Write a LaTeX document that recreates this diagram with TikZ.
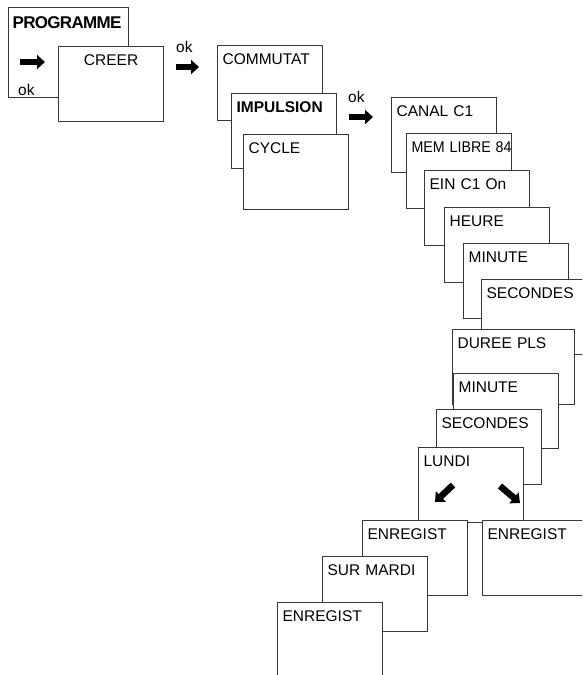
\documentclass[tikz,border=0pt]{standalone}
\usepackage{fontspec}
\setmainfont{Liberation Sans}
\usetikzlibrary{positioning, arrows.meta}

\begin{document}
\begin{tikzpicture}[x=1pt, y=-1pt,
    font=\fontsize{15.5}{18}\selectfont,
    screen/.style={draw=black!78, line width=1.2pt, fill=white,
      anchor=north west, inner xsep=5pt, inner ysep=0pt,
      text width=95pt, align=left, text height=19pt, text depth=56pt},
    wide/.style={text width=112pt},
    fatarrow/.style={line width=6.5pt, -{Triangle[length=8pt, width=14pt]}},
    oktext/.style={anchor=base west, inner sep=0pt}]
    \useasboundingbox (0,0) rectangle (582,675);
    \clip (0,0) rectangle (582,675);
    % main menu
    \node[screen, text width=112pt, inner xsep=4pt, text height=21pt,
      text depth=69pt] (prog) at (8,7)
      {\fontsize{17}{20}\bfseries\selectfont\addfontfeature{LetterSpace=-4}PROGRAMME};
    \coordinate (pa) at (20,62);
    \coordinate (pb) at (45,62);
    \draw[fatarrow] (pa) -- (pb);
    \node[oktext] (okprog) at (18,95) {ok};
    \node[screen, align=center, below right=39pt and 50pt of prog.north west]
      (creer) {CREER};
    \coordinate (ca) at (176,67);
    \coordinate (cb) at (199,67);
    \draw[fatarrow] (ca) -- (cb);
    \node[oktext] (okcreer) at (176,52) {ok};
    % type of program
    \node[screen] (commutat) at (217,45) {COMMUTAT};
    \node[screen, below right=48pt and 14pt of commutat.north west]
      (impuls) {\bfseries IMPULSION};
    \node[screen, below right=41pt and 12pt of impuls.north west]
      (cycle) {CYCLE};
    \coordinate (ia) at (349,117);
    \coordinate (ib) at (373,117);
    \draw[fatarrow] (ia) -- (ib);
    \node[oktext] (okimp) at (348,102) {ok};
    % pulse settings
    \node[screen] (canal) at (391,97) {CANAL C1};
    \node[screen, below right=36pt and 15pt of canal.north west]
      (mem) {\scalebox{0.92}[1]{MEM LIBRE 84}};
    \node[screen, below right=37pt and 18pt of mem.north west] (ein) {EIN C1 On};
    \node[screen, below right=37pt and 20pt of ein.north west] (heure) {HEURE};
    \node[screen, below right=36pt and 19pt of heure.north west] (minA) {MINUTE};
    \node[screen, below right=36pt and 18pt of minA.north west] (secA) {SECONDES};
    \node[screen, wide, below right=50pt and -29pt of secA.north west]
      (duree) {DUREE PLS};
    \node[screen, below right=44pt and 1pt of duree.north west] (minB) {MINUTE};
    \node[screen, below right=36pt and -17pt of minB.north west] (secB) {SECONDES};
    \node[screen, below right=38pt and -18pt of secB.north west] (lundi) {LUNDI};
    \coordinate (la) at (453,485);
    \coordinate (lb) at (435,502);
    \coordinate (ra) at (500,486);
    \coordinate (rb) at (520,503);
    \draw[fatarrow] (la) -- (lb);
    \draw[fatarrow] (ra) -- (rb);
    % saving
    \node[screen, below right=73pt and -56pt of lundi.north west] (enrL) {ENREGIST};
    \node[screen, below right=73pt and 64pt of lundi.north west] (enrR) {ENREGIST};
    \node[screen, below right=36pt and -40pt of enrL.north west] (mardi) {SUR MARDI};
    \node[screen, below right=46pt and -45pt of mardi.north west] (enrB) {ENREGIST};
\end{tikzpicture}
\end{document}
